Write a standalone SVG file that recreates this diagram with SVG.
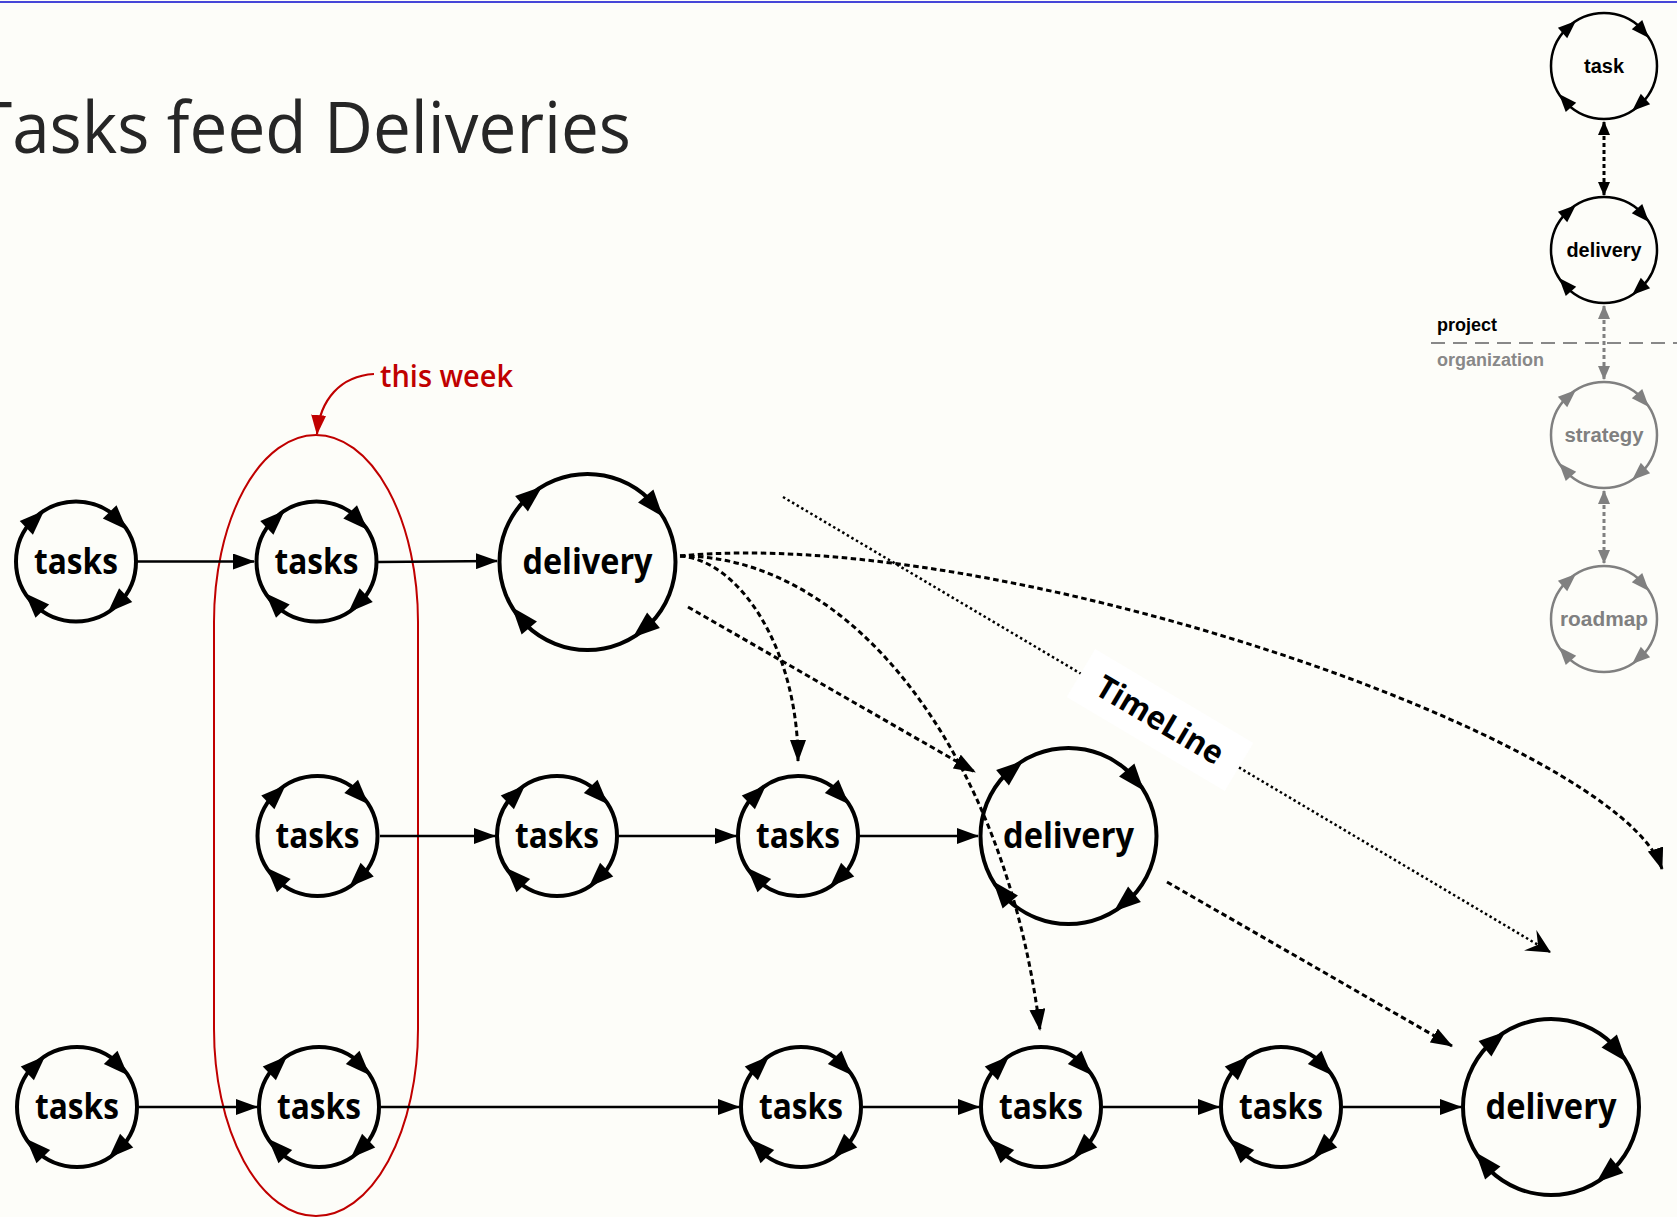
<svg xmlns="http://www.w3.org/2000/svg" xmlns:xlink="http://www.w3.org/1999/xlink" width="1677" height="1217" viewBox="0 0 1677 1217">
  <style>
    .title { font-family: "Open Sans", "Noto Sans", sans-serif; font-size: 72px; fill: #262626; }
    .lbl { font-family: "Open Sans", "Noto Sans", sans-serif; font-weight: 700; font-size: 35px; fill: #000; text-anchor: middle; }
    .leg { font-family: "Liberation Sans", Arial, sans-serif; font-weight: 700; font-size: 20px; text-anchor: middle; }
    .solid { fill: none; stroke: #000; stroke-width: 2.5; marker-end: url(#arr); }
    .dash { fill: none; stroke: #000; stroke-width: 3; stroke-dasharray: 5.5 3.5; marker-end: url(#arr); }
    .dot { fill: none; stroke: #000; stroke-width: 2.5; stroke-dasharray: 2.5 2.8; marker-end: url(#barb); }
    .legarrow { fill: none; stroke-width: 3; stroke-dasharray: 4 3; }
    .red { fill: #c00000; font-family: "Open Sans", "Noto Sans", sans-serif; font-weight: 600; font-size: 31px; }
  </style>
  <defs>
    <marker id="arr" markerUnits="userSpaceOnUse" markerWidth="22" markerHeight="16" viewBox="0 0 22 16" refX="21" refY="8" orient="auto">
      <path d="M0,0 L22,8 L0,16 Z" fill="#000"/>
    </marker>
    <marker id="arrRed" markerUnits="userSpaceOnUse" markerWidth="20" markerHeight="15" viewBox="0 0 20 15" refX="19" refY="7.5" orient="auto">
      <path d="M0,0 L20,7.5 L0,15 Z" fill="#c00000"/>
    </marker>
    <marker id="barb" markerUnits="userSpaceOnUse" markerWidth="24" markerHeight="24" viewBox="0 0 24 24" refX="23" refY="12" orient="auto">
      <path d="M24,12 L0,0 L9,12 L0,24 Z" fill="#000"/>
    </marker>
    <marker id="legArr" markerUnits="userSpaceOnUse" markerWidth="14" markerHeight="12" viewBox="0 0 14 12" refX="13" refY="6" orient="auto-start-reverse">
      <path d="M0,0 L14,6 L0,12 Z" fill="#000"/>
    </marker>
    <marker id="legArrGray" markerUnits="userSpaceOnUse" markerWidth="14" markerHeight="12" viewBox="0 0 14 12" refX="13" refY="6" orient="auto-start-reverse">
      <path d="M0,0 L14,6 L0,12 Z" fill="#808080"/>
    </marker>

    <!-- cycle ring, small (tasks) -->
    <g id="ringTask">
      <circle r="60" fill="none" stroke="#000" stroke-width="4"/>
      <polygon points="60,0 45.58,-22.32 64.16,-26.24" transform="rotate(58)"/>
      <polygon points="60,0 45.58,-22.32 64.16,-26.24" transform="rotate(148)"/>
      <polygon points="60,0 45.58,-22.32 64.16,-26.24" transform="rotate(238)"/>
      <polygon points="60,0 45.58,-22.32 64.16,-26.24" transform="rotate(328)"/>
    </g>
    <!-- cycle ring, large (delivery) -->
    <g id="ringDelivery">
      <circle r="88" fill="none" stroke="#000" stroke-width="4"/>
      <polygon points="88,0 74.01,-25.05 93.77,-28.11" transform="rotate(59)"/>
      <polygon points="88,0 74.01,-25.05 93.77,-28.11" transform="rotate(149)"/>
      <polygon points="88,0 74.01,-25.05 93.77,-28.11" transform="rotate(239)"/>
      <polygon points="88,0 74.01,-25.05 93.77,-28.11" transform="rotate(329)"/>
    </g>
    <!-- cycle ring, legend size; colour taken from the use element -->
    <g id="ringLegend" fill="currentColor">
      <circle r="53" fill="none" stroke="currentColor" stroke-width="2.5"/>
      <polygon points="53,0 43.07,-16.48 56.87,-18.84" transform="rotate(58)"/>
      <polygon points="53,0 43.07,-16.48 56.87,-18.84" transform="rotate(148)"/>
      <polygon points="53,0 43.07,-16.48 56.87,-18.84" transform="rotate(238)"/>
      <polygon points="53,0 43.07,-16.48 56.87,-18.84" transform="rotate(328)"/>
    </g>
  </defs>

  <rect x="0" y="0" width="1677" height="1217" fill="#fdfdf9"/>
  <line x1="0" y1="2" x2="1677" y2="2" stroke="#4646d8" stroke-width="2"/>

  <text class="title" x="-25" y="153" textLength="656" lengthAdjust="spacingAndGlyphs">Tasks feed Deliveries</text>

  <!-- "this week" marker -->
  <g id="this-week">
    <rect x="214" y="435" width="204" height="781" rx="102" ry="187" fill="none" stroke="#c00000" stroke-width="2"/>
    <path d="M374,374 C340,376 320,400 317,434" fill="none" stroke="#c00000" stroke-width="2.2" marker-end="url(#arrRed)"/>
    <text class="red" x="380" y="387" textLength="133" lengthAdjust="spacingAndGlyphs">this week</text>
  </g>

  <!-- connectors -->
  <g id="connectors">
    <!-- row 1 -->
    <line class="solid" x1="137" y1="561.5" x2="254" y2="561.5"/>
    <line class="solid" x1="378" y1="562" x2="497" y2="561"/>
    <!-- row 2 -->
    <line class="solid" x1="380" y1="836" x2="495" y2="836"/>
    <line class="solid" x1="619" y1="836" x2="736" y2="836"/>
    <line class="solid" x1="860" y1="836" x2="978" y2="836"/>
    <!-- row 3 -->
    <line class="solid" x1="139" y1="1107" x2="257" y2="1107"/>
    <line class="solid" x1="381" y1="1107" x2="739" y2="1107"/>
    <line class="solid" x1="863" y1="1107" x2="979" y2="1107"/>
    <line class="solid" x1="1103" y1="1107" x2="1219" y2="1107"/>
    <line class="solid" x1="1343" y1="1107" x2="1461" y2="1107"/>

    <!-- fan-out from the first delivery -->
    <path class="dash" d="M680,556 C740,560 798,650 798,761"/>
    <path class="dash" d="M680,556 C850,555 1005,750 1040,1030"/>
    <path class="dash" d="M680,556 C1000,525 1620,740 1662,869"/>
    <line class="dash" x1="688" y1="607" x2="975" y2="772"/>
    <line class="dash" x1="1167" y1="882" x2="1452" y2="1046"/>

    <!-- time line -->
    <line class="dot" x1="783" y1="497" x2="1550" y2="952"/>
    <g transform="translate(1160,720) rotate(30.7)">
      <rect x="-92" y="-28" width="184" height="56" fill="#ffffff"/>
      <text x="0" y="11" text-anchor="middle" font-family="Open Sans, Noto Sans, sans-serif" font-weight="700" font-size="32" textLength="142" lengthAdjust="spacingAndGlyphs">TimeLine</text>
    </g>
  </g>

  <!-- row 1 -->
  <g id="tasks-r1-1"><use href="#ringTask" x="76" y="561.5"/><text class="lbl" x="76" y="573.5" textLength="84" lengthAdjust="spacingAndGlyphs">tasks</text></g>
  <g id="tasks-r1-2"><use href="#ringTask" x="316.5" y="561.5"/><text class="lbl" x="316.5" y="573.5" textLength="84" lengthAdjust="spacingAndGlyphs">tasks</text></g>
  <g id="delivery-r1"><use href="#ringDelivery" x="587.5" y="562"/><text class="lbl" x="587.5" y="574" textLength="130" lengthAdjust="spacingAndGlyphs">delivery</text></g>

  <!-- row 2 -->
  <g id="tasks-r2-1"><use href="#ringTask" x="317.5" y="836"/><text class="lbl" x="317.5" y="848" textLength="84" lengthAdjust="spacingAndGlyphs">tasks</text></g>
  <g id="tasks-r2-2"><use href="#ringTask" x="557" y="836"/><text class="lbl" x="557" y="848" textLength="84" lengthAdjust="spacingAndGlyphs">tasks</text></g>
  <g id="tasks-r2-3"><use href="#ringTask" x="798" y="836"/><text class="lbl" x="798" y="848" textLength="84" lengthAdjust="spacingAndGlyphs">tasks</text></g>
  <g id="delivery-r2"><use href="#ringDelivery" x="1068.5" y="836"/><text class="lbl" x="1068.5" y="848" textLength="131" lengthAdjust="spacingAndGlyphs">delivery</text></g>

  <!-- row 3 -->
  <g id="tasks-r3-1"><use href="#ringTask" x="77" y="1107"/><text class="lbl" x="77" y="1119" textLength="84" lengthAdjust="spacingAndGlyphs">tasks</text></g>
  <g id="tasks-r3-2"><use href="#ringTask" x="319" y="1107"/><text class="lbl" x="319" y="1119" textLength="84" lengthAdjust="spacingAndGlyphs">tasks</text></g>
  <g id="tasks-r3-3"><use href="#ringTask" x="801" y="1107"/><text class="lbl" x="801" y="1119" textLength="84" lengthAdjust="spacingAndGlyphs">tasks</text></g>
  <g id="tasks-r3-4"><use href="#ringTask" x="1041" y="1107"/><text class="lbl" x="1041" y="1119" textLength="84" lengthAdjust="spacingAndGlyphs">tasks</text></g>
  <g id="tasks-r3-5"><use href="#ringTask" x="1281" y="1107"/><text class="lbl" x="1281" y="1119" textLength="84" lengthAdjust="spacingAndGlyphs">tasks</text></g>
  <g id="delivery-r3"><use href="#ringDelivery" x="1551" y="1107"/><text class="lbl" x="1551" y="1119" textLength="131" lengthAdjust="spacingAndGlyphs">delivery</text></g>

  <!-- legend -->
  <g id="legend">
    <g id="legend-links">
      <line class="legarrow" x1="1604" y1="122" x2="1604" y2="195" stroke="#000" marker-start="url(#legArr)" marker-end="url(#legArr)"/>
      <line class="legarrow" x1="1604" y1="306" x2="1604" y2="379" stroke="#808080" marker-start="url(#legArrGray)" marker-end="url(#legArrGray)"/>
      <line class="legarrow" x1="1604" y1="491" x2="1604" y2="563" stroke="#808080" marker-start="url(#legArrGray)" marker-end="url(#legArrGray)"/>
    </g>
    <g id="legend-task" color="#000"><use href="#ringLegend" x="1604" y="66"/><text class="leg" x="1604" y="73" fill="#000" textLength="40" lengthAdjust="spacingAndGlyphs">task</text></g>
    <g id="legend-delivery" color="#000"><use href="#ringLegend" x="1604" y="250"/><text class="leg" x="1604" y="257" fill="#000" textLength="75" lengthAdjust="spacingAndGlyphs">delivery</text></g>
    <g id="legend-strategy" color="#808080"><use href="#ringLegend" x="1604" y="435"/><text class="leg" x="1604" y="442" fill="#808080" textLength="79" lengthAdjust="spacingAndGlyphs">strategy</text></g>
    <g id="legend-roadmap" color="#808080"><use href="#ringLegend" x="1604" y="619"/><text class="leg" x="1604" y="626" fill="#808080" textLength="88" lengthAdjust="spacingAndGlyphs">roadmap</text></g>
    <line x1="1431" y1="343" x2="1677" y2="343" stroke="#888" stroke-width="2" stroke-dasharray="14 8"/>
    <text x="1437" y="331" font-family="Liberation Sans, Arial, sans-serif" font-weight="700" font-size="18" fill="#000">project</text>
    <text x="1437" y="366" font-family="Liberation Sans, Arial, sans-serif" font-weight="700" font-size="18" fill="#888">organization</text>
  </g>
</svg>
